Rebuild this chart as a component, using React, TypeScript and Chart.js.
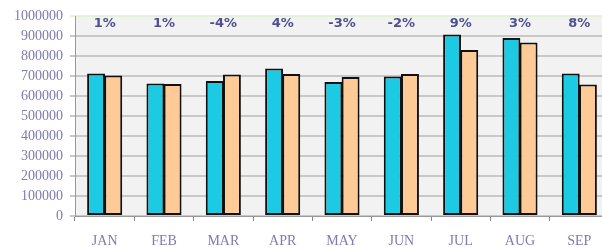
import React, { useEffect, useRef } from "react";
import { Chart, registerables } from "chart.js";

Chart.register(...registerables);

const months = ["JAN", "FEB", "MAR", "APR", "MAY", "JUN", "JUL", "AUG", "SEP"];
const seriesA = [713000, 662000, 675000, 738000, 670000, 697000, 908000, 890000, 713000];
const seriesB = [703000, 660000, 707000, 710000, 695000, 710000, 830000, 867000, 657000];
const pctLabels = ["1%", "1%", "-4%", "4%", "-3%", "-2%", "9%", "3%", "8%"];

const panelPlugin = {
  id: "panel",
  beforeDraw(chart: any) {
    const { ctx, chartArea } = chart;
    ctx.save();
    ctx.fillStyle = "#f2f2f2";
    ctx.fillRect(chartArea.left, chartArea.top - 1, chartArea.right - chartArea.left, chartArea.bottom - chartArea.top + 1);
    ctx.restore();
  },
  afterDatasetsDraw(chart: any) {
    const { ctx } = chart;
    const xs = chart.scales.x;
    ctx.save();
    ctx.font = "bold 13px 'DejaVu Sans', sans-serif";
    ctx.fillStyle = "#4f4f92";
    ctx.textAlign = "center";
    ctx.textBaseline = "middle";
    pctLabels.forEach((t, i) => {
      ctx.fillText(t, xs.getPixelForValue(i), 24);
    });
    ctx.restore();
  },
};

export default function App() {
  const ref = useRef<HTMLCanvasElement>(null);
  useEffect(() => {
    const chart = new Chart(ref.current!, {
      type: "bar",
      data: {
        labels: months,
        datasets: [
          {
            data: seriesA,
            backgroundColor: "#1ccbe3",
            borderColor: "#111111",
            borderWidth: 2,
            borderSkipped: false,
            categoryPercentage: 0.58,
            barPercentage: 1.04,
          },
          {
            data: seriesB,
            backgroundColor: "#fecb96",
            borderColor: "#111111",
            borderWidth: 2,
            borderSkipped: false,
            categoryPercentage: 0.58,
            barPercentage: 1.04,
          },
        ],
      },
      options: {
        animation: false,
        responsive: false,
        maintainAspectRatio: false,
        layout: { padding: { top: 16, right: 3, left: 7, bottom: 0 } },
        plugins: { legend: { display: false }, tooltip: { enabled: false } },
        scales: {
          x: {
            afterFit: (s: any) => {
              s.height = 31;
            },
            grid: {
              offset: true,
              drawOnChartArea: false,
              drawTicks: true,
              tickLength: 5,
              color: "#888888",
            },
            border: { color: "#999999", width: 1 },
            ticks: {
              color: "#7c7cb0",
              font: { family: "'Liberation Serif', serif", size: 14 },
              padding: 12,
            },
          },
          y: {
            min: 0,
            max: 1000000,
            ticks: {
              stepSize: 100000,
              autoSkip: false,
              color: "#7c7cb0",
              font: { family: "'Liberation Serif', serif", size: 14 },
              padding: 7,
              callback: (v: any) => String(v),
            },
            grid: {
              tickLength: 5,
              lineWidth: 2,
              color: (c: any) => (c.tick && c.tick.value === 1000000 ? "#e4f0d8" : "#c8c8c8"),
            },
            border: { color: "#999999", width: 1 },
          },
        },
      },
      plugins: [panelPlugin],
    });
    return () => chart.destroy();
  }, []);
  return (
    <div style={{ position: "fixed", left: 0, top: 0, width: 602, height: 247, overflow: "hidden", background: "#fff" }}>
      <canvas ref={ref} width={612} height={247} style={{ display: "block", width: 612, height: 247 }} />
    </div>
  );
}
